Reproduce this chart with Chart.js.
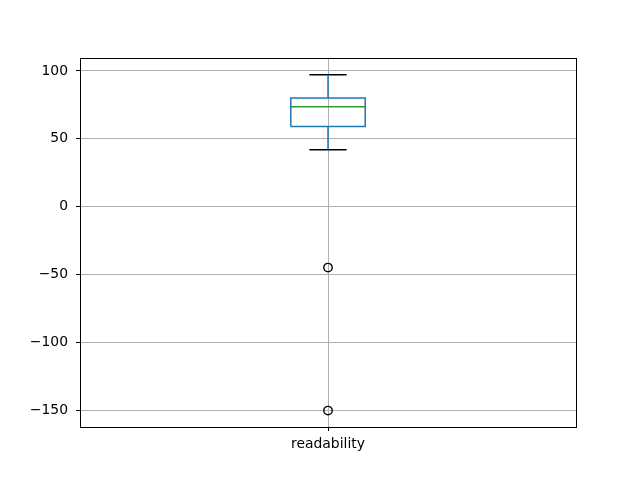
<!DOCTYPE html>
<html><head><meta charset="utf-8">
<script src="https://cdn.jsdelivr.net/npm/chart.js@4/dist/chart.umd.min.js"></script>
<style>html,body{margin:0;padding:0;background:#fff}#wrap{width:640px;height:480px}</style>
</head><body><div id="wrap"><canvas id="c" width="640" height="480"></canvas></div>
<script>
const categories = ['readability'];
const whiskerLow = [41.9];
const q1 = [59.0];
const median = [73.5];
const q3 = [80.1];
const whiskerHigh = [97.1];
const outliers = [[-44.9, -150.3]];
const yTicks = [-150, -100, -50, 0, 50, 100];

const BOXW = 0.15, CAPW = 0.075;
const BLUE = '#1f77b4', GREEN = '#2ca02c', BLACK = '#000000';
const datasets = [];
categories.forEach((cat, i) => {
  const x = i + 1;
  const lw = 1.5;
  const line = (pts, color) => ({data: pts, showLine: true, borderColor: color, borderWidth: lw, pointRadius: 0, fill: false, tension: 0});
  datasets.push(line([{x: x-BOXW/2, y: q1[i]}, {x: x+BOXW/2, y: q1[i]}, {x: x+BOXW/2, y: q3[i]}, {x: x-BOXW/2, y: q3[i]}, {x: x-BOXW/2, y: q1[i]}], BLUE));
  datasets.push(line([{x: x, y: q1[i]}, {x: x, y: whiskerLow[i]}], BLUE));
  datasets.push(line([{x: x, y: q3[i]}, {x: x, y: whiskerHigh[i]}], BLUE));
  datasets.push(line([{x: x-CAPW/2, y: whiskerLow[i]}, {x: x+CAPW/2, y: whiskerLow[i]}], BLACK));
  datasets.push(line([{x: x-CAPW/2, y: whiskerHigh[i]}, {x: x+CAPW/2, y: whiskerHigh[i]}], BLACK));
  datasets.push(line([{x: x-BOXW/2, y: median[i]}, {x: x+BOXW/2, y: median[i]}], GREEN));
  datasets.push({data: outliers[i].map(v => ({x: x, y: v})), showLine: false, pointStyle: 'circle', pointRadius: 4.2, pointBorderWidth: 1.4, pointBorderColor: BLACK, pointBackgroundColor: 'rgba(0,0,0,0)'});
});

const frame = {id: 'frame', afterDraw(chart) {
  const a = chart.chartArea, ctx = chart.ctx;
  ctx.save(); ctx.strokeStyle = '#000'; ctx.lineWidth = 1;
  ctx.strokeRect(Math.round(a.left) + 0.5, Math.round(a.top) + 0.5, Math.round(a.right - a.left), Math.round(a.bottom - a.top));
  ctx.restore();
}};

const font = {family: 'DejaVu Sans', size: 13.9};
new Chart(document.getElementById('c'), {
  type: 'scatter',
  data: {datasets},
  options: {
    responsive: false, animation: false,
    layout: {padding: {left: 0, top: 58, right: 64, bottom: 0}},
    plugins: {legend: {display: false}, tooltip: {enabled: false}},
    scales: {
      x: {
        type: 'linear', min: 0.5, max: categories.length + 0.5,
        afterBuildTicks: s => { s.ticks = categories.map((c, i) => ({value: i + 1})); },
        afterFit: s => { s.height = 53; },
        ticks: {callback: (v) => categories[Math.round(v) - 1] || '', color: '#000', font, padding: 5, maxRotation: 0},
        grid: {color: '#b0b0b0', lineWidth: 1, tickColor: '#000', tickLength: 4, tickWidth: 1},
        border: {color: '#000', width: 1}
      },
      y: {
        min: -162.4, max: 109.5,
        afterBuildTicks: s => { s.ticks = yTicks.map(v => ({value: v})); },
        afterFit: s => { s.width = 80; },
        ticks: {callback: v => String(v).replace('-', '\u2212'), color: '#000', font, padding: 8},
        grid: {color: '#b0b0b0', lineWidth: 1, tickColor: '#000', tickLength: 4, tickWidth: 1},
        border: {color: '#000', width: 1}
      }
    }
  },
  plugins: [frame]
});
</script></body></html>
